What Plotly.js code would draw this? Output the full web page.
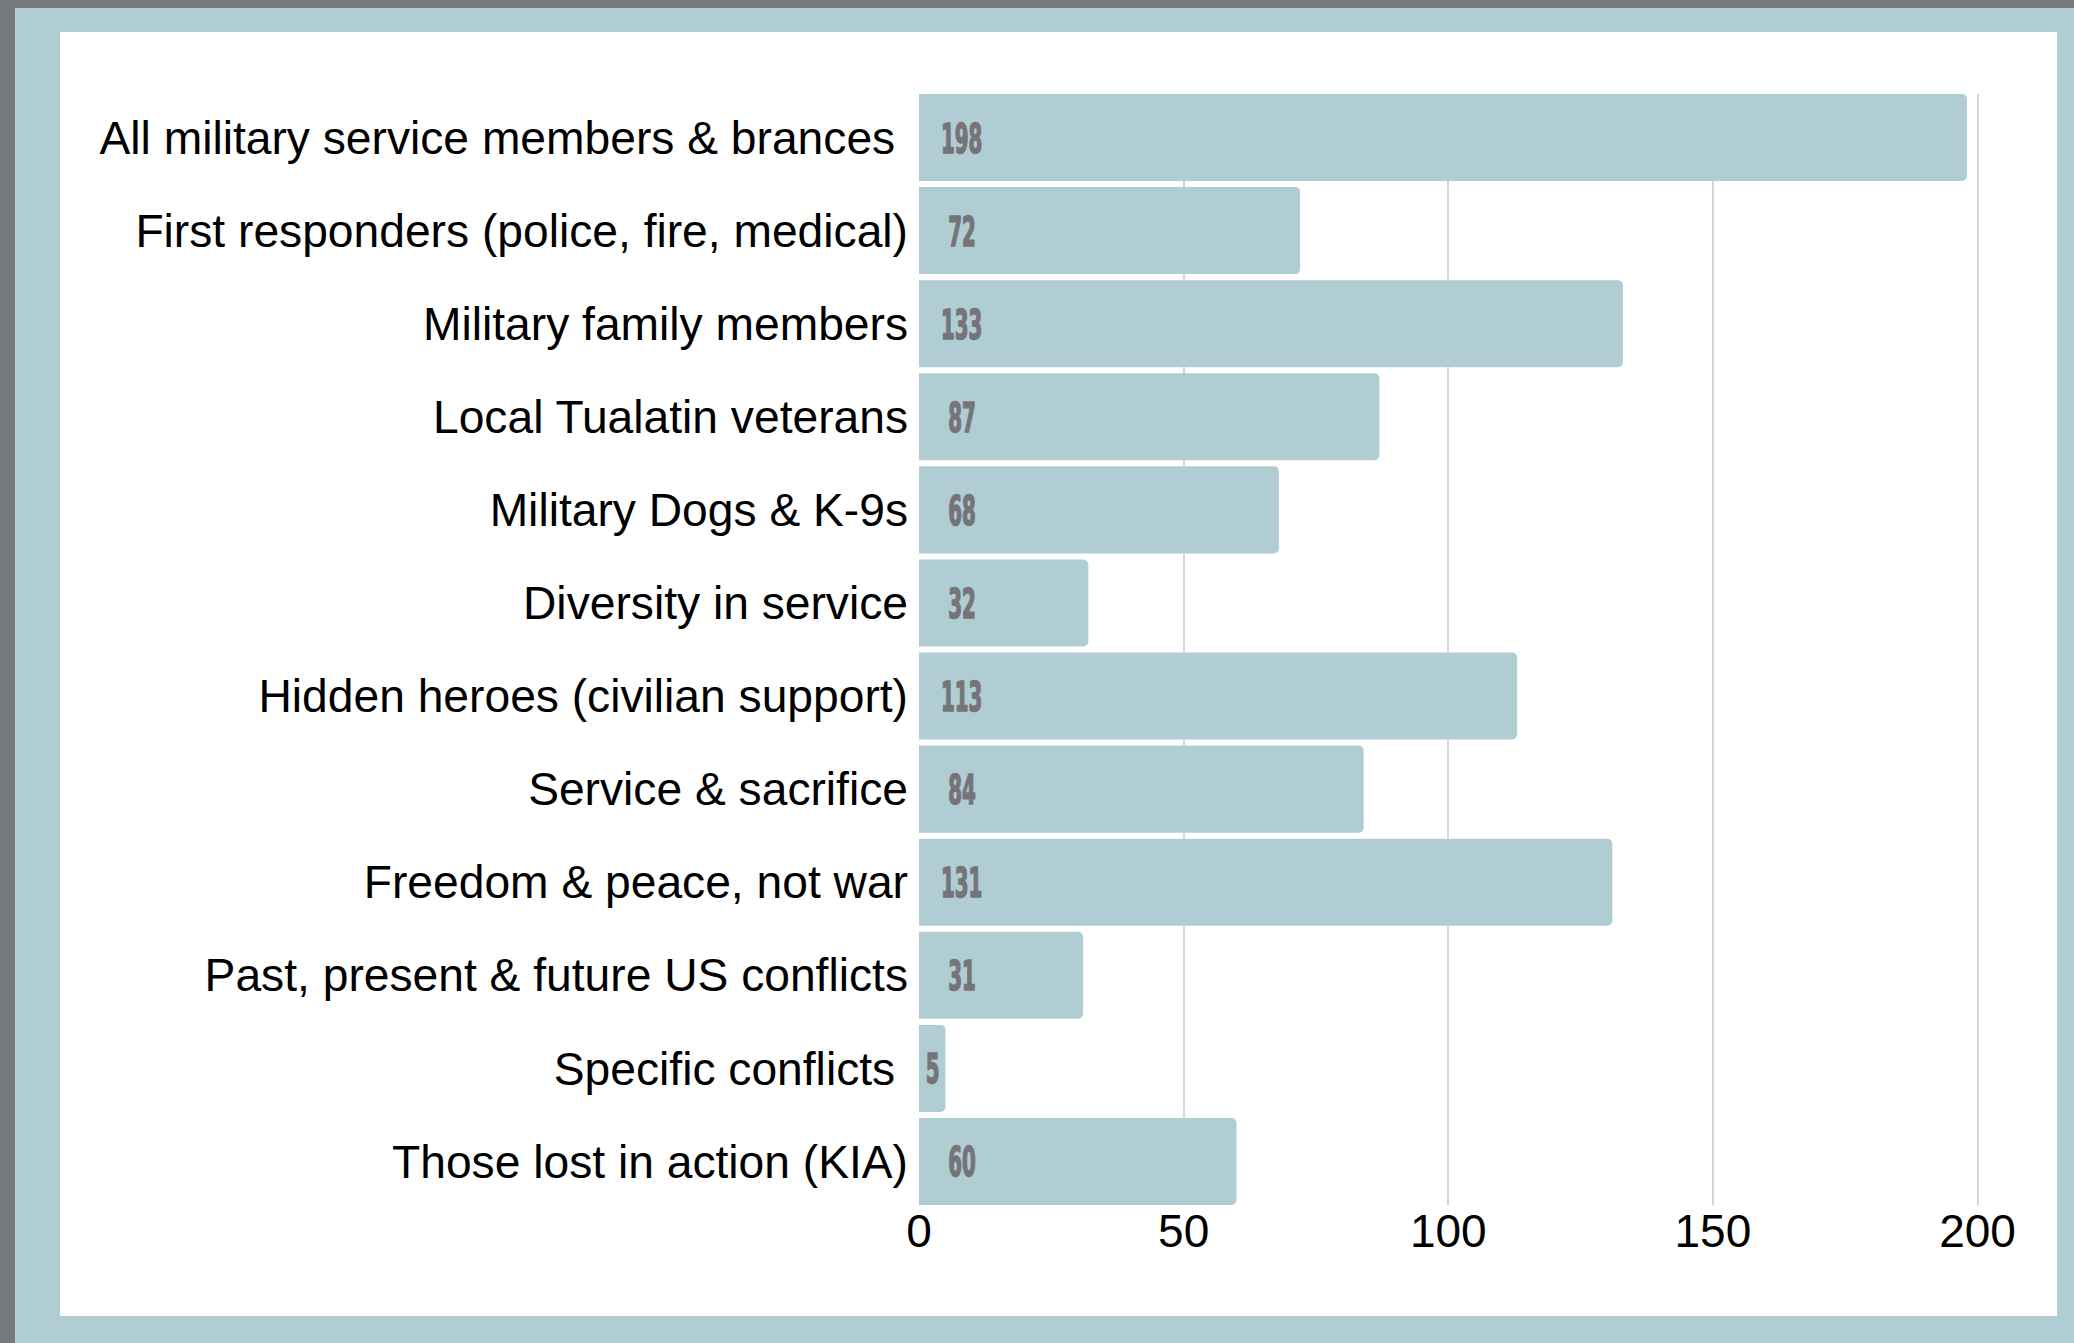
<!DOCTYPE html>
<html>
<head>
<meta charset="utf-8">
<script src="https://cdn.plot.ly/plotly-3.0.1.min.js"></script>
<style>
  html, body { margin: 0; padding: 0; }
  body { width: 2074px; height: 1343px; background: #b0cdd3; position: relative; overflow: hidden; }
  #grayTop { position: absolute; left: 0; top: 0; width: 2074px; height: 8px; background: #77787d; }
  #grayLeft { position: absolute; left: 0; top: 0; width: 15px; height: 1343px; background: #77787d; }
  #chart { position: absolute; left: 60px; top: 32px; width: 1997px; height: 1284px; background: #ffffff; }
</style>
</head>
<body>
<div id="grayTop"></div>
<div id="grayLeft"></div>
<div id="chart"></div>
<script>
const categories = [
  "All military service members & brances\u00a0",
  "First responders (police, fire, medical)",
  "Military family members",
  "Local Tualatin veterans",
  "Military Dogs & K-9s",
  "Diversity in service",
  "Hidden heroes (civilian support)",
  "Service & sacrifice",
  "Freedom & peace, not war",
  "Past, present & future US conflicts",
  "Specific conflicts\u00a0",
  "Those lost in action (KIA)"
];
const values = [198, 72, 133, 87, 68, 32, 113, 84, 131, 31, 5, 60];
const tickValues = [0, 50, 100, 150, 200];

const barColor = "#b0cdd3";
const valueColor = "#747479";
const labelFont = "Liberation Sans, Arial, Helvetica, sans-serif";
const gap = 0.065;

const trace = {
  type: "bar",
  orientation: "h",
  y: categories,
  x: values,
  marker: { color: barColor, cornerradius: 5, line: { width: 0 } },
  hoverinfo: "skip",
  textposition: "none"
};

const annotations = values.map((v, i) => ({
  x: Math.min(v / 2, 8.1),
  y: categories[i],
  xref: "x",
  yref: "y",
  text: String(v),
  showarrow: false,
  xanchor: "center",
  yanchor: "middle",
  yshift: -1,
  font: { family: "DejaVu Sans Condensed, Liberation Sans Narrow, Arial Narrow, sans-serif", size: 40, color: valueColor, weight: "bold" }
}));

const layout = {
  width: 1997,
  height: 1284,
  paper_bgcolor: "#ffffff",
  plot_bgcolor: "#ffffff",
  margin: { l: 859, r: 53, t: 62, b: 111, pad: 0 },
  bargap: gap,
  showlegend: false,
  font: { family: labelFont, color: "#000000" },
  xaxis: {
    range: [0, 205],
    tickvals: tickValues,
    ticktext: tickValues.map(String),
    showgrid: true,
    gridcolor: "#d6d6d6",
    gridwidth: 2,
    zeroline: false,
    showline: false,
    ticks: "",
    ticklabelstandoff: -5,
    tickfont: { family: labelFont, size: 46, color: "#000000" },
    fixedrange: true
  },
  yaxis: {
    range: [categories.length - 0.5 - gap / 2, -0.5 + gap / 2],
    showgrid: false,
    zeroline: false,
    showline: false,
    ticks: "",
    ticklabelstandoff: 10,
    tickfont: { family: labelFont, size: 46.2, color: "#000000" },
    fixedrange: true
  },
  annotations: annotations
};

Plotly.newPlot("chart", [trace], layout, { displayModeBar: false, staticPlot: true }).then(() => {
  document.querySelectorAll("#chart .annotation-text").forEach(t => {
    const bb = t.getBBox();
    const cx = bb.x + bb.width / 2;
    const prev = t.getAttribute("transform") || "";
    t.setAttribute("transform", prev + " translate(" + cx + " 0) scale(0.55 1) translate(" + (-cx) + " 0)");
    t.style.stroke = valueColor;
    t.style.strokeWidth = "1.6px";
    t.style.strokeLinejoin = "round";
  });
});
</script>
</body>
</html>
